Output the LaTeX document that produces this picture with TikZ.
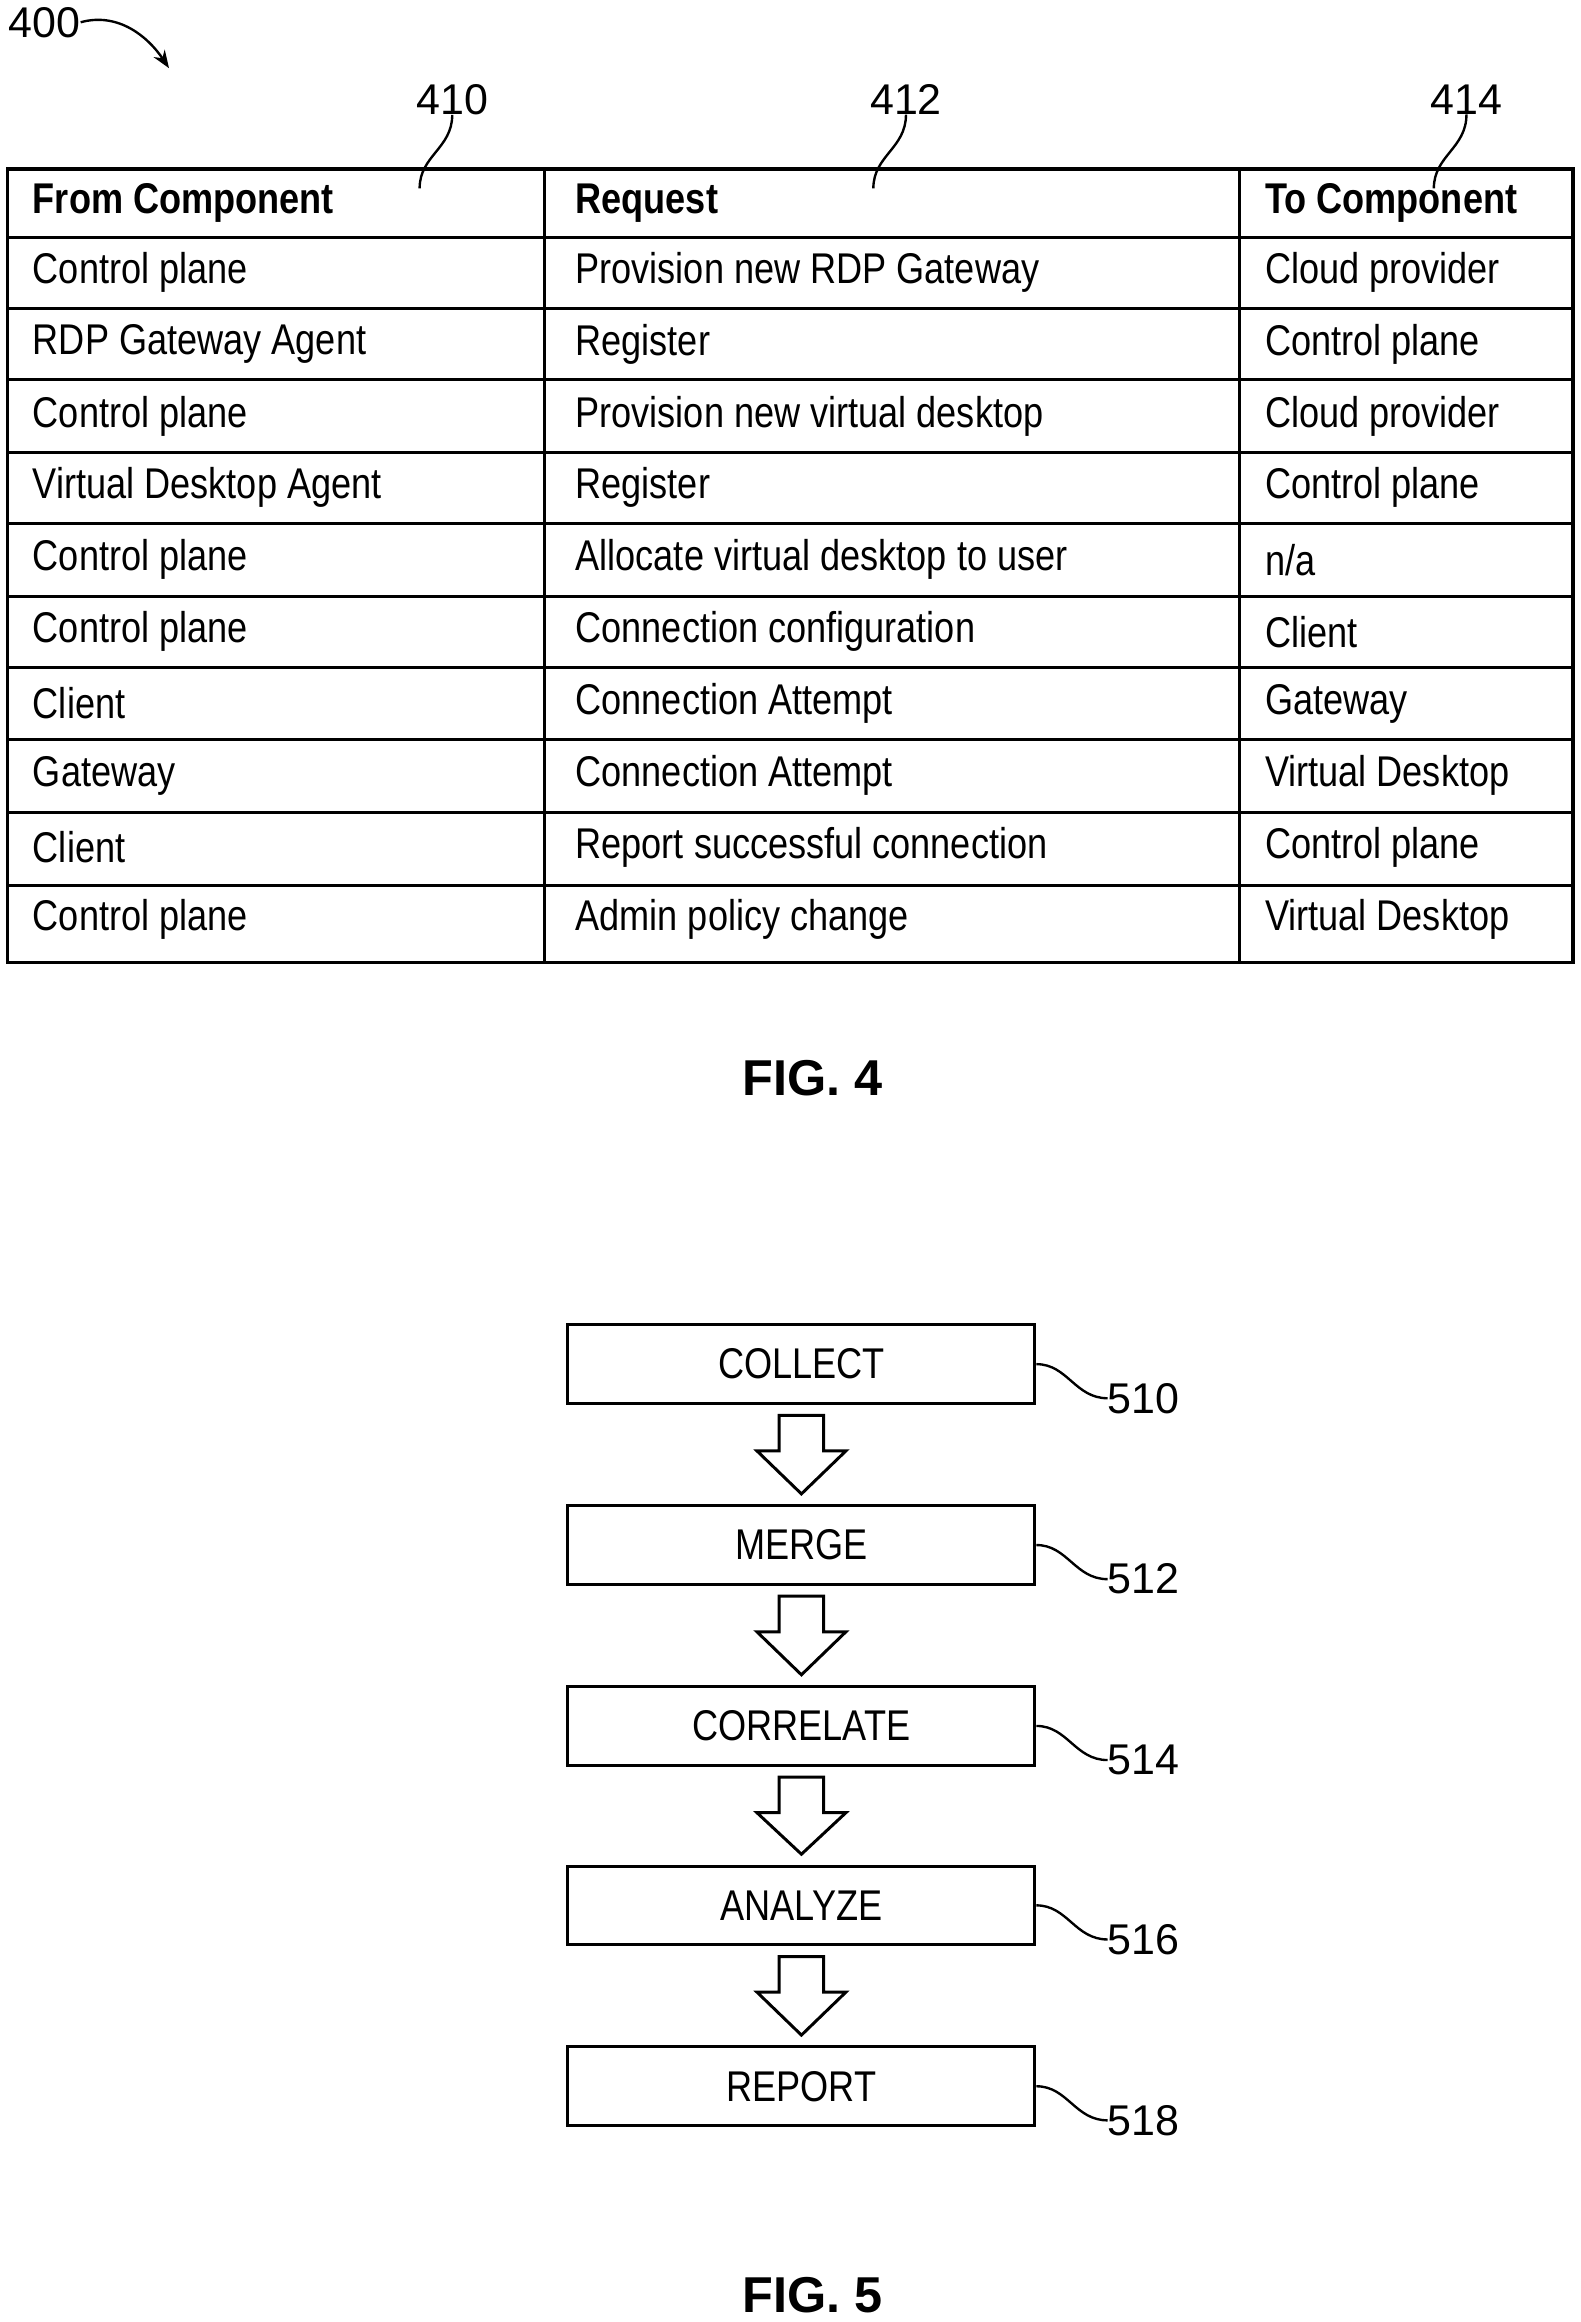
\documentclass[tikz,border=0pt]{standalone}
\usetikzlibrary{arrows.meta,calc}
\usepackage{fontspec}
\setmainfont{Liberation Sans}
\newfontfamily\narrowf[FakeStretch=0.84]{Liberation Sans}
\begin{document}
\begin{tikzpicture}[x=1pt,y=-1pt,
  cell/.style={anchor=west,inner sep=0pt,font=\narrowf\fontsize{29}{31}\selectfont},
  hdr/.style={cell,font=\narrowf\bfseries\fontsize{29}{31}\selectfont},
  num/.style={inner sep=0pt,font=\fontsize{29}{31}\selectfont},
  fig/.style={inner sep=0pt,font=\bfseries\fontsize{34}{36}\selectfont},
  box/.style={draw,line width=2pt,minimum width=315pt,minimum height=53pt,inner sep=0pt,font=\narrowf\fontsize{29}{31}\selectfont},
  lead/.style={line width=1.6pt}]
\useasboundingbox (0,0) rectangle (1066,1566);
% table
\draw[line width=2.4pt] (5,114) rectangle (1061,649);
\foreach \y in {160,208,256,305,353,402,450,499,548,597}
  \draw[line width=2pt] (5,\y) -- (1061,\y);
\foreach \x in {367,836} \draw[line width=2pt] (\x,114) -- (\x,649);
\node[hdr] (h1) at (22,137) {From Component};
\node[hdr] (h2) at (388,137) {Request};
\node[hdr] (h3) at (853,137) {To Component};
\foreach \a/\b/\c [count=\i] in {
 Control plane/Provision new RDP Gateway/Cloud provider,
 RDP Gateway Agent/Register/Control plane,
 Control plane/Provision new virtual desktop/Cloud provider,
 Virtual Desktop Agent/Register/Control plane,
 Control plane/Allocate virtual desktop to user/n\slash a,
 Control plane/Connection configuration/Client,
 Client/Connection Attempt/Gateway,
 Gateway/Connection Attempt/Virtual Desktop,
 Client/Report successful connection/Control plane,
 Control plane/Admin policy change/Virtual Desktop}{
  \pgfmathsetmacro{\yy}{135+48.5*\i}
  \node[cell] (a\i) at (22,\yy) {\a};
  \node[cell] (b\i) at (388,\yy) {\b};
  \node[cell] (c\i) at (853,\yy) {\c};
}
% reference numerals
\node[num] (n400) at (30,15) {400};
\coordinate (t400) at (114,46);
\draw[lead,-{Stealth[length=12pt,width=9pt]}] (n400.east) .. controls (80,8) and (100,25) .. (t400);
\node[num] (n410) at (305,67) {410};
\node[num] (n412) at (611,67) {412};
\node[num] (n414) at (989,67) {414};
\coordinate (e410) at (283,127);
\coordinate (e412) at (589,127);
\coordinate (e414) at (967,127);
\draw[lead] (n410.south) .. controls (305,100) and (283,105) .. (e410);
\draw[lead] (n412.south) .. controls (611,100) and (589,105) .. (e412);
\draw[lead] (n414.south) .. controls (989,100) and (967,105) .. (e414);
\node[fig] (f4) at (548,727) {FIG. 4};
% fig 5
\foreach \t/\y/\n [count=\i] in {COLLECT/920/510,MERGE/1042/512,CORRELATE/1164/514,ANALYZE/1285/516,REPORT/1407/518}{
  \node[box] (s\i) at (540.5,\y) {\t};
  \node[num,anchor=west] (l\i) at (747,\y+23) {\n};
  \draw[lead] (s\i.east) .. controls (720,\y) and (725,\y+23) .. (l\i.west);
}
\foreach \i in {1,2,3,4}{
  \pgfmathtruncatemacro{\j}{\i+1}
  \path (s\i.south) ++(0,7) coordinate (p\i);
  \path (s\j.north) ++(0,-7) coordinate (q\i);
  \draw[line width=2pt] ($(p\i)+(-15,0)$) -- ($(p\i)+(15,0)$) -- ($(p\i)+(15,24)$) -- ($(p\i)+(30,24)$) -- (q\i) -- ($(p\i)+(-30,24)$) -- ($(p\i)+(-15,24)$) -- cycle;
}
\node[fig] (f5) at (548,1548) {FIG. 5};
\end{tikzpicture}
\end{document}
